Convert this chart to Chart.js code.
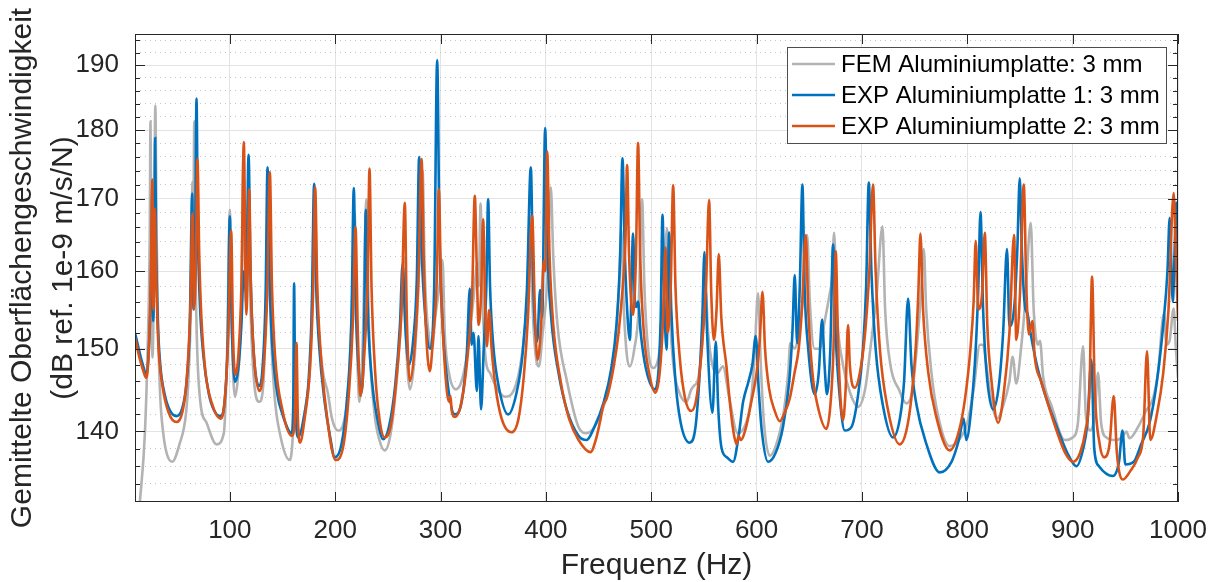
<!DOCTYPE html>
<html>
<head>
<meta charset="utf-8">
<script src="https://cdn.jsdelivr.net/npm/chart.js@4"></script>
<style>
  html, body { margin: 0; padding: 0; background: #fff; }
  #wrap { width: 1220px; height: 582px; }
</style>
</head>
<body>
<div id="wrap"><canvas id="chart" width="1220" height="582"></canvas></div>
<script>
// [Hz, dB]
const femPts = [
  [10,126],[14.6,132],[19.4,139.8],[22,150],[24,165],[24.7,181.3],[25.7,160],[26.6,148.9],[28,160],[29.3,183.7],
  [30.5,165],[32,152],[34,144],[36.8,139.8],[40,137.5],[45.3,136.5],[52.2,138.5],[58.5,142.2],[61,147],[63.3,157],
  [64.6,172.4],[65.3,165],[66.3,181.3],[67.5,160],[69,150],[72,143.5],[78,141],[87.4,138.5],[94.3,139.8],[97.5,150],
  [100,168.4],[102,152],[104.8,144.1],[108,147],[111,156],[113,176],[115,156],[117.5,170],[119.5,156],[123,146],
  [128,143.5],[132,146],[135,160],[136.5,172],[138.5,155],[142,145],[148,139.5],[157,136.7],[160,140],[162,148],
  [163.5,141],[167,140],[172,143],[177,150],[180.5,171],[183,156],[188,147.5],[193,144.6],[197,141.5],[202.8,140.1],
  [208,141],[213,146],[216.5,158],[218.5,168],[220.5,152],[223,143.5],[226,150],[229.7,169.9],[232,153],[237,142.5],
  [242,139],[247,137.8],[253,140],[259,147],[263,155],[265,162],[267,152],[271,145],[276,150],[280.5,163],
  [283,174],[285,160],[289,151.5],[292,150],[295,154],[299,158],[301.9,161.5],[304,152],[308,147],[314.5,145],
  [320,146],[326,150],[331,156],[335.1,161],[336.3,158],[338,169.3],[340,156],[343,148.5],[347,147],[352,145.5],
  [361,144.1],[370,145],[377,149],[382,156],[385,167.5],[387.5,155],[391,148.5],[393.3,147.8],[397,152],[401,158],
  [404.7,171.6],[407,162],[411,153],[420,146],[431,140.5],[438.6,139.8],[446,140.5],[455,143],[462,147],[466,151],
  [469.5,158],[471.5,165.7],[474,155],[477,149],[479.7,147.8],[484,150],[488,155],[491.3,169.9],[493.5,158],[497,150],
  [502,147.6],[507,149],[511,154],[515,165.9],[517.5,155],[521,148],[527,144.5],[533.5,143.5],[538,145],[541,145.5],
  [544,146],[548,150],[551.5,157.7],[554,152],[558,148],[563,147],[568,147.8],[574,144],[582,139.8],[590,141],
  [595,144],[598,149],[601.4,157.1],[604,148],[607,141],[612.5,137.2],[620,139],[626,142.5],[630,147],[632,150.7],
  [636,150],[641,153],[645,158],[648,164.9],[650.5,156],[655,150],[660,150],[664,153],[669.5,157.1],[671.5,159],
  [673.6,165.2],[676,155],[682,148],[689,144.5],[696.3,142.9],[703,145],[708,150],[714,157],[719.5,166.1],[722,155],
  [727,148],[735,145],[742.3,143.3],[748,145],[752,150],[756,157],[758.7,163],[761,155],[766,147],[772,142],
  [783.3,138.3],[792,139],[800,141],[806,145],[812,150.5],[815,150.5],[818,148],[823,143.5],[828,141.5],[834,143],
  [840,146],[843,149],[846.5,145.7],[851,150],[855,156],[860.2,166.6],[863,155],[867.1,150.5],[869,151],[872,146.5],
  [880,143],[892.5,139],[900,139.3],[905,141],[909.9,150.3],[912.5,142],[916.9,140.1],[921,142],[924.1,147],[927,141],
  [932,139.3],[941.5,139],[948,139.5],[951,140],[954,139.2],[962,140.5],[970,142.5],[976.3,143.9],[981,147],[986.7,154.5],
  [989,150.5],[992,151],[995.9,155.1],[998,150],[1000,146.4]
];

const exp1Pts = [
  [10,152],[13,150.3],[17,148.2],[21,146.8],[23,149.5],[25,157],[26.5,171],[27.3,153.5],[28.3,163],[29.1,178.8],
  [30,164],[31.5,154],[34,148],[38,144.5],[43,142.5],[49.4,141.8],[55,142.8],[59,146],[62,153],[64.3,170.7],
  [65.5,155],[67.2,166],[68.4,184.8],[69.6,166],[71.5,156],[75,149],[80,144.5],[85,142.5],[91.2,141.8],[95,143.5],
  [98,151],[100,167.5],[101.5,155],[104.8,145.9],[108,147.5],[111,153],[113.2,160],[115.5,157],[117.8,176.3],[119.5,161],
  [122,151],[127.8,145.4],[131,147.5],[134,157],[135.8,174.5],[137.5,160],[140,151],[145,144.5],[150,142],[158.6,139.8],
  [160.2,143],[161,158.4],[162,145],[164.9,139.3],[170,141.5],[175,146.5],[178,156],[180,172.1],[182,158],[185,150],
  [190,143.5],[195,139.5],[199.7,137],[206,138.5],[211,143.5],[215.5,154],[217.7,171.5],[219.5,156],[222,148],[225,144.6],
  [227.3,151],[229.1,168.4],[231,155],[235,146],[240,141.5],[245.5,139.1],[251,140.5],[257,145.5],[261.5,153],[264,161],
  [266.5,153],[270,148],[274,151],[277.5,159],[279.7,176],[282,163],[285,155],[290,150],[294,158],[296.8,190.8],
  [299,165],[302,153],[306,146.5],[313.6,142],[320,143.5],[325,149.5],[327.8,157.7],[329.5,150.5],[331.3,152],[334.5,144.8],
  [336,151.6],[338.5,142.6],[341,150],[343.5,158],[345.2,169.9],[347,158],[350,150.5],[355,145.5],[364.2,142],[372,144.5],
  [378,149.5],[382,157.5],[385.7,174.5],[388,158],[391.7,150.9],[394.5,157.5],[396.5,154],[399.3,180.3],[401.5,163],[405,154],
  [412,147],[420,142.5],[431,139.5],[438.6,139],[446,140.5],[455,143.5],[462,147.5],[467,153],[470.5,162],[472.7,175.8],
  [475,162],[478,153],[479.7,151.1],[482.8,165.1],[484.5,156],[486,155.3],[487.5,156],[490,152],[495,147.5],[503.4,145],
  [507,147.5],[509,154],[510.7,167.7],[512.5,156],[514.5,149.9],[517,165.3],[519,155],[523,146],[528,141],[536.6,138.7],
  [542,140.5],[546,147],[548.5,154],[550.5,162.6],[553,152],[558.1,142.2],[561.3,150.9],[563.5,143],[566.7,138.1],[572,137],
  [577.7,136.5],[583,139.5],[587.2,143.5],[592,145.8],[596,148],[599.2,151.6],[602,145],[605,140],[610.9,136.5],[618,137.5],
  [625,140.5],[631,146],[634,152],[636.2,159.5],[638.5,150.7],[641,158],[643.5,172],[645.5,158],[649,150],[655.2,144.4],
  [659,147],[662.2,153.7],[664.5,148],[666.8,144.4],[670,150],[672.6,163.6],[675,152],[679,144],[683.7,140.1],[690,140.5],
  [696,144],[701,150],[704,158],[706.5,172.3],[709,160],[713,150],[720,143],[729.5,139.3],[736,141.5],[740,146],
  [743.8,156.4],[747,148],[752,143],[760,139],[773.9,135.3],[785,136.5],[792,139],[796.6,141.5],[799,139],[804,143],
  [808,150],[810.5,158],[812.5,168.1],[815,155],[818,147.5],[824.5,142.6],[830,145.5],[834,152],[837.7,163],[840,152.8],
  [845,156],[847.5,163],[849.8,172.9],[852,162],[855,155.1],[857,154.5],[860,152],[866,148],[875,143.9],[885,140.5],
  [895,137.5],[903.6,136],[910,138],[914,141],[917.8,148.6],[920.5,138],[925,136],[938.3,134.9],[944,136.5],[947.3,140.1],
  [950,136.2],[958,136.5],[965,138.5],[973,141],[980,146],[986,153],[990,160],[992.1,167.3],[995,156],[998.5,169.4],
  [1000,157.1]
];

const exp2Pts = [
  [10,151.4],[14,149],[18,147.2],[20.5,146.4],[23,149.5],[25,159],[26.5,172.7],[27.5,155],[28.8,168.6],[30,160],
  [32,151],[36,145.5],[42,142.2],[49.5,141.1],[55,142.3],[59,146],[62.5,155],[64.6,167.9],[66,155],[67.8,161],
  [69.3,175.7],[71,162],[73,154],[77,147],[83,143.3],[91.2,141.5],[95,143.5],[98.5,151.5],[101.3,165.5],[103,152],
  [105,146.8],[108,149],[111,158],[113.3,178.2],[114.8,160],[115.7,154.3],[117,160],[118.4,171.3],[120,158],[123,149],
  [128,144.8],[132,147.5],[135.5,157],[138,173.8],[140,158],[143,149],[150,142.5],[158.6,139.5],[161.5,141],[163.3,150.7],
  [164.5,142],[166.6,138.7],[171,141.5],[176,147.5],[179,157],[181,171.6],[183,158],[186,150],[191,143],[200.5,136.7],
  [208,138.5],[213,144.5],[217,154],[219.3,166],[221.5,152],[224,144.2],[228,150],[230.8,159],[232.6,174.3],[234.5,158],
  [238,147],[242,141.5],[247,139.3],[253,140.8],[259,147.5],[263,155],[266.1,169.4],[268,154],[270.9,146],[275,149.5],
  [279,159],[282,175.7],[284,162],[286,153],[289.8,147.2],[293,151.5],[296.5,159],[298.4,171.3],[300.5,158],[304,148],
  [308,143.5],[309.5,144.2],[310.5,142.5],[313.6,141.7],[320,143.5],[326,149.5],[330,157],[332.5,170.4],[334.5,160],[336,153],
  [338.5,157],[340.4,167.1],[342.5,155],[344,150.3],[346.1,154.9],[348.5,150],[352,145.5],[358,141.5],[367.4,139.9],[374,141.5],
  [379,146.5],[383,154],[387,167.6],[389.5,155],[392,148.6],[395.5,153],[398,161.4],[399.5,160],[401.2,176.8],[403.5,162],
  [407,153],[414,146],[422,141.5],[431,139],[442.3,137.6],[448,139.3],[452,141.5],[454.3,143],[458,144],[464,147.5],
  [469,152],[473,158],[475.5,164],[477.1,174.8],[479,162],[482.8,154.3],[485.5,162],[487.5,178.1],[489.5,162],[493,152],
  [498,147],[504,144.6],[508,147],[511,153],[513.5,163.2],[515.5,152],[518.5,158],[520.8,171.9],[523,158],[527,149],
  [532,144],[538,142.4],[543,144],[548,150],[552,158],[554.9,169.8],[557,157],[559.5,151.1],[562,155],[564.1,162.3],
  [566.5,154],[571.4,147.8],[575,143],[578,140],[580.9,138.5],[583,139.5],[585,139],[590,140.5],[595,143.5],[600,147],
  [603,151],[605.6,157.3],[608,150],[612,145],[617,142.5],[622,141.2],[627,142.3],[631.5,143.9],[636,147],[640,150],
  [643,155],[646.7,164.9],[649,155],[653,147],[658,143],[666.3,140.3],[670,143],[673,150],[675.1,162.7],[677.5,150],
  [682,141.3],[684.5,145],[686.8,153],[688.5,148],[693.2,145.2],[698,147],[703,152],[707,160],[710.5,172],[713,160],
  [717,150],[724,143],[735.9,138.5],[742,140],[747,144],[751,150],[753.5,157],[755.5,165.1],[758,155],[763,147],
  [770,142],[783.3,137.8],[792,140],[798,144],[803,150],[806,156],[808,164.1],[810.5,155],[814,157],[816.6,165.2],
  [819,153],[823,146],[829.3,141],[835,145],[840,152],[844.4,164.9],[846.5,151.1],[850,157],[853.6,172],[856,158],
  [858.5,151.8],[861.8,153.5],[864,149],[870,146],[875,143.9],[885,140],[893,137.5],[900.4,136.5],[907,137.5],[912,140],
  [916,145],[918.4,159.3],[921,145],[925.7,138.5],[930,137],[935,138.5],[939,144.2],[942,137.5],[947.8,134.5],[955,135.5],
  [962,137],[967,139.5],[970.6,149.7],[973.7,139],[980,142],[986,147],[991,155],[995.9,170.8],[998,162],[1000,153.5]
];

const seriesLabels = ["FEM Aluminiumplatte: 3 mm", "EXP Aluminiumplatte 1: 3 mm", "EXP Aluminiumplatte 2: 3 mm"];
const xTicks = [100, 200, 300, 400, 500, 600, 700, 800, 900, 1000];
const yTicks = [134, 136, 138, 140, 142, 144, 146, 148, 150, 152, 154, 156, 158, 160, 162, 164, 166, 168, 170,
  172, 174, 176, 178, 180, 182, 184, 186, 188, 190, 192, 194];

const FONT = "'Liberation Sans', Arial, Helvetica, sans-serif";
const INK = "#262626";
const isMajorY = (v) => Math.round(v) % 10 === 0;
const toXY = (pts) => pts.map(([x, y]) => ({ x, y }));

// MATLAB style box with inward ticks on all four sides
const axesBox = {
  id: "axesBox",
  afterDraw(chart) {
    const { ctx, chartArea: a, scales: { x, y } } = chart;
    ctx.save();
    ctx.strokeStyle = INK;
    ctx.lineWidth = 1;
    ctx.beginPath();
    for (const t of x.ticks) {
      const px = Math.round(x.getPixelForValue(t.value)) + 0.5;
      ctx.moveTo(px, a.bottom); ctx.lineTo(px, a.bottom - 10);
      ctx.moveTo(px, a.top); ctx.lineTo(px, a.top + 10);
    }
    for (const t of y.ticks) {
      const py = Math.round(y.getPixelForValue(t.value)) + 0.5;
      const len = isMajorY(t.value) ? 10 : 5;
      ctx.moveTo(a.left, py); ctx.lineTo(a.left + len, py);
      ctx.moveTo(a.right, py); ctx.lineTo(a.right - len, py);
    }
    ctx.stroke();
    ctx.strokeRect(Math.round(a.left) + 0.5, Math.round(a.top) + 0.5,
      Math.round(a.width) - 1, Math.round(a.height) - 1);
    ctx.restore();
  }
};

// legend box in the upper right corner of the axes
const boxLegend = {
  id: "boxLegend",
  afterDraw(chart) {
    const { ctx, chartArea: a } = chart;
    const right = a.right - 12, top = a.top + 13, w = 379, h = 96;
    const left = right - w;
    ctx.save();
    ctx.fillStyle = "#fff";
    ctx.fillRect(left, top, w, h);
    ctx.strokeStyle = "#4d4d4d";
    ctx.lineWidth = 1;
    ctx.strokeRect(Math.round(left) + 0.5, Math.round(top) + 0.5, w, h);
    ctx.font = "24px " + FONT;
    ctx.textBaseline = "middle";
    ctx.fillStyle = "#000";
    chart.data.datasets.forEach((ds, i) => {
      const yy = top + 17 + i * 31;
      ctx.strokeStyle = ds.borderColor;
      ctx.lineWidth = 2.6;
      ctx.beginPath();
      ctx.moveTo(left + 5, yy); ctx.lineTo(left + 48, yy);
      ctx.stroke();
      ctx.fillText(ds.label, left + 54, yy + 1);
    });
    ctx.restore();
  }
};

new Chart(document.getElementById("chart"), {
  type: "line",
  data: {
    datasets: [
      { label: seriesLabels[0], data: toXY(femPts), borderColor: "#b3b3b3", order: 3 },
      { label: seriesLabels[1], data: toXY(exp1Pts), borderColor: "#0072bd", order: 2 },
      { label: seriesLabels[2], data: toXY(exp2Pts), borderColor: "#d95319", order: 1 }
    ]
  },
  options: {
    responsive: false,
    animation: false,
    layout: { padding: { top: 34, right: 42, left: 0, bottom: 0 } },
    elements: {
      point: { radius: 0 },
      line: { borderWidth: 2.6, cubicInterpolationMode: "monotone", fill: false }
    },
    plugins: { legend: { display: false }, tooltip: { enabled: false } },
    scales: {
      x: {
        type: "linear",
        min: 10,
        max: 1000,
        afterBuildTicks: (s) => { s.ticks = xTicks.map((v) => ({ value: v })); },
        afterFit: (s) => { s.height = 80; s.paddingRight = 0; s.paddingLeft = 0; },
        grid: { color: "#e3e3e3", lineWidth: 1, drawTicks: false },
        border: { display: false },
        ticks: {
          padding: 13, maxRotation: 0, autoSkip: false, color: INK,
          font: { family: FONT, size: 26 },
          callback: (v) => String(v)
        },
        title: {
          display: true, text: "Frequenz (Hz)", color: INK,
          font: { family: FONT, size: 30, lineHeight: 1 }, padding: { top: 0, bottom: 1 }
        }
      },
      y: {
        type: "logarithmic",
        min: 132,
        max: 195,
        afterBuildTicks: (s) => { s.ticks = yTicks.map((v) => ({ value: v, major: isMajorY(v) })); },
        afterFit: (s) => { s.width = 135; },
        grid: {
          color: (c) => (c.tick && isMajorY(c.tick.value) ? "#e3e3e3" : "#c4c4c4"),
          lineWidth: 1,
          drawTicks: false
        },
        border: { display: false, dash: (c) => (c.tick && isMajorY(c.tick.value) ? [] : [1, 4]) },
        ticks: {
          padding: 16,
          autoSkip: false,
          color: INK,
          font: { family: FONT, size: 26 },
          callback: (v) => (isMajorY(v) ? String(Math.round(v)) : "")
        },
        title: {
          display: true,
          text: ["Gemittelte Oberflächengeschwindigkeit", "(dB ref. 1e-9 m/s/N)"],
          color: INK,
          font: { family: FONT, size: 30, lineHeight: 41 / 30 },
          padding: { top: 2, bottom: 0 }
        }
      }
    }
  },
  plugins: [axesBox, boxLegend]
});
</script>
</body>
</html>
